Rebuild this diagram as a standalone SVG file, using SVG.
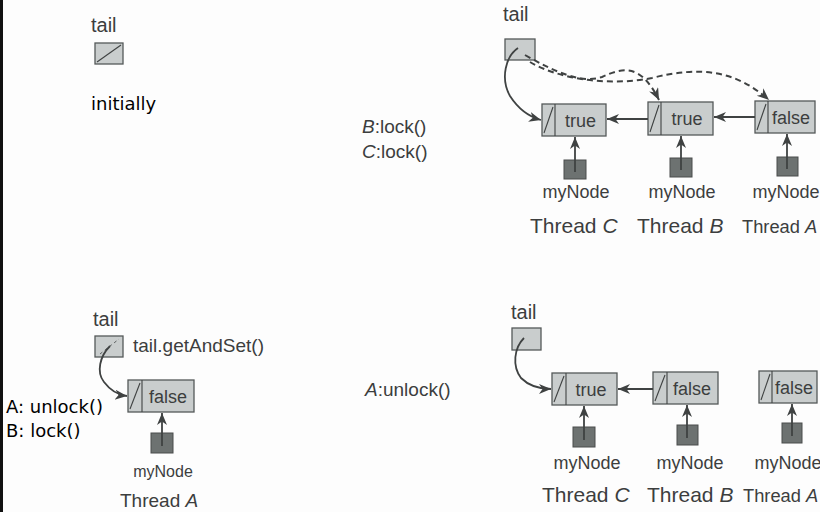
<svg xmlns="http://www.w3.org/2000/svg" width="820" height="512" viewBox="0 0 820 512">
<defs>
<marker id="ah" markerUnits="userSpaceOnUse" markerWidth="14" markerHeight="12" refX="12" refY="5" orient="auto">
<path d="M0,0 L12,5 L0,10 L3.5,5 z" fill="#3f4242"/>
</marker>
</defs>
<style>
.t{font-family:"Liberation Sans",Arial,sans-serif;fill:#3c3e3e}
.c{font-family:"DejaVu Sans",sans-serif;fill:#000;font-size:18px}
.box{fill:#c9cdcd;stroke:#555959;stroke-width:1.3}
.my{fill:#6d7271;stroke:#4a4d4d;stroke-width:1}
.ln{fill:none;stroke:#3f4242;stroke-width:1.8}
.dl{fill:none;stroke:#3f4242;stroke-width:2;stroke-dasharray:6,4}
.thin{fill:none;stroke:#3f4242;stroke-width:1.1}
.v{font-size:18px}
.th{font-size:21px}
.tha{font-size:18.3px}
.mn{font-size:18px}
</style>
<rect x="0" y="0" width="820" height="512" fill="#fdfdfd"/>
<rect x="0" y="0" width="3" height="512" fill="#111"/>

<!-- Panel 1: initially -->
<g id="p1-tail">
<text class="t" x="91" y="32" font-size="20">tail</text>
<rect class="box" x="95" y="43" width="28" height="21"/>
<line class="thin" x1="97" y1="62" x2="121" y2="45"/>
</g>
<text class="c" x="91" y="110">initially</text>

<!-- Panel 2 -->
<g id="p2-tail">
<text class="t" x="503" y="21" font-size="20">tail</text>
<rect class="box" x="505" y="39" width="30" height="21"/>
</g>
<text class="t" x="362" y="133" font-size="19"><tspan font-style="italic">B</tspan>:lock()</text>
<text class="t" x="362" y="158" font-size="19"><tspan font-style="italic">C</tspan>:lock()</text>
<g id="p2-nodeC">
<rect class="box" x="542" y="104" width="64" height="32"/>
<line class="thin" x1="555" y1="104" x2="555" y2="136"/>
<line class="thin" x1="544" y1="133" x2="553" y2="107"/>
<text class="t v" x="580.5" y="127" text-anchor="middle">true</text>
<rect class="my" x="564" y="160" width="22" height="19"/>
<text class="t mn" x="576" y="198" text-anchor="middle">myNode</text>
<text class="t th" x="530" y="233">Thread <tspan font-style="italic">C</tspan></text>
</g>
<g id="p2-nodeB">
<rect class="box" x="648" y="102" width="65" height="33"/>
<line class="thin" x1="661" y1="102" x2="661" y2="135"/>
<line class="thin" x1="650" y1="132" x2="659" y2="105"/>
<text class="t v" x="687" y="125" text-anchor="middle">true</text>
<rect class="my" x="670" y="158" width="22" height="19"/>
<text class="t mn" x="682" y="198" text-anchor="middle">myNode</text>
<text class="t th" x="637" y="233">Thread <tspan font-style="italic">B</tspan></text>
</g>
<g id="p2-nodeA">
<rect class="box" x="755" y="101" width="60" height="32"/>
<line class="thin" x1="768" y1="101" x2="768" y2="133"/>
<line class="thin" x1="757" y1="130" x2="766" y2="104"/>
<text class="t v" x="791" y="124" text-anchor="middle">false</text>
<rect class="my" x="777" y="157" width="21" height="19"/>
<text class="t mn" x="786" y="198" text-anchor="middle">myNode</text>
<text class="t tha" x="742" y="233">Thread <tspan font-style="italic">A</tspan></text>
</g>

<!-- Panel 3 -->
<g id="p3-tail">
<text class="t" x="93" y="326" font-size="20">tail</text>
<rect class="box" x="95" y="336" width="28" height="21"/>
<line x1="100" y1="354" x2="119" y2="339" stroke="#5a5e5e" stroke-width="1" stroke-dasharray="3,3"/>
<text class="t" x="133" y="352" font-size="19">tail.getAndSet()</text>
</g>
<text class="c" x="6" y="413">A: unlock()</text>
<text class="c" x="6" y="437">B: lock()</text>
<g id="p3-nodeA">
<rect class="box" x="128" y="380" width="66" height="32"/>
<line class="thin" x1="142" y1="380" x2="142" y2="412"/>
<line class="thin" x1="130" y1="409" x2="140" y2="383"/>
<text class="t v" x="168" y="403" text-anchor="middle">false</text>
<rect class="my" x="151" y="433" width="22" height="20"/>
<text class="t" x="163" y="477" font-size="16" text-anchor="middle">myNode</text>
<text class="t" x="120" y="507" font-size="19">Thread <tspan font-style="italic">A</tspan></text>
</g>

<!-- Panel 4 -->
<g id="p4-tail">
<text class="t" x="511" y="319" font-size="20">tail</text>
<rect class="box" x="512" y="328" width="29" height="22"/>
</g>
<text class="t" x="365" y="396" font-size="19"><tspan font-style="italic">A</tspan>:unlock()</text>
<g id="p4-nodeC">
<rect class="box" x="552" y="373" width="65" height="32"/>
<line class="thin" x1="566" y1="373" x2="566" y2="405"/>
<line class="thin" x1="554" y1="402" x2="564" y2="376"/>
<text class="t v" x="591" y="396" text-anchor="middle">true</text>
<rect class="my" x="573" y="427" width="22" height="20"/>
<text class="t mn" x="587" y="469" text-anchor="middle">myNode</text>
<text class="t th" x="542" y="502">Thread <tspan font-style="italic">C</tspan></text>
</g>
<g id="p4-nodeB">
<rect class="box" x="653" y="372" width="65" height="32"/>
<line class="thin" x1="667" y1="372" x2="667" y2="404"/>
<line class="thin" x1="655" y1="401" x2="665" y2="375"/>
<text class="t v" x="692" y="395" text-anchor="middle">false</text>
<rect class="my" x="677" y="425" width="21" height="20"/>
<text class="t mn" x="690" y="469" text-anchor="middle">myNode</text>
<text class="t th" x="647" y="502">Thread <tspan font-style="italic">B</tspan></text>
</g>
<g id="p4-nodeA">
<rect class="box" x="759" y="371" width="58" height="32"/>
<line class="thin" x1="772" y1="371" x2="772" y2="403"/>
<line class="thin" x1="761" y1="400" x2="770" y2="374"/>
<text class="t v" x="794" y="394" text-anchor="middle">false</text>
<rect class="my" x="782" y="423" width="20" height="20"/>
<text class="t mn" x="788" y="469" text-anchor="middle">myNode</text>
<text class="t tha" x="743" y="502">Thread <tspan font-style="italic">A</tspan></text>
</g>

<g id="connectors">
<!-- panel 2 -->
<path class="ln" d="M518,48 C506,56 500,78 510,96 C519,110 530,117 541,120" marker-end="url(#ah)"/>
<path class="dl" d="M525,55 C555,72 582,84 602,77 C622,68 640,62 659,100" marker-end="url(#ah)"/>
<path class="dl" d="M530,62 C560,80 612,86 652,78 C700,66 735,70 769,100" marker-end="url(#ah)"/>
<line class="ln" x1="648" y1="119" x2="607" y2="119" marker-end="url(#ah)"/>
<line class="ln" x1="755" y1="117" x2="714" y2="117" marker-end="url(#ah)"/>
<line class="ln" x1="575" y1="172" x2="575" y2="137" marker-end="url(#ah)"/>
<line class="ln" x1="681" y1="170" x2="681" y2="136" marker-end="url(#ah)"/>
<line class="ln" x1="787" y1="169" x2="787" y2="134" marker-end="url(#ah)"/>
<!-- panel 3 -->
<path class="ln" d="M110,346 C100,356 96,372 104,382 C110,390 118,395 127,396" marker-end="url(#ah)"/>
<line class="ln" x1="162" y1="446" x2="162" y2="413" marker-end="url(#ah)"/>
<!-- panel 4 -->
<path class="ln" d="M524,338 C514,348 512,366 521,378 C529,386 540,389 551,389" marker-end="url(#ah)"/>
<line class="ln" x1="653" y1="389" x2="618" y2="389" marker-end="url(#ah)"/>
<line class="ln" x1="584" y1="440" x2="584" y2="406" marker-end="url(#ah)"/>
<line class="ln" x1="687" y1="438" x2="687" y2="405" marker-end="url(#ah)"/>
<line class="ln" x1="792" y1="436" x2="792" y2="404" marker-end="url(#ah)"/>
</g>
</svg>
